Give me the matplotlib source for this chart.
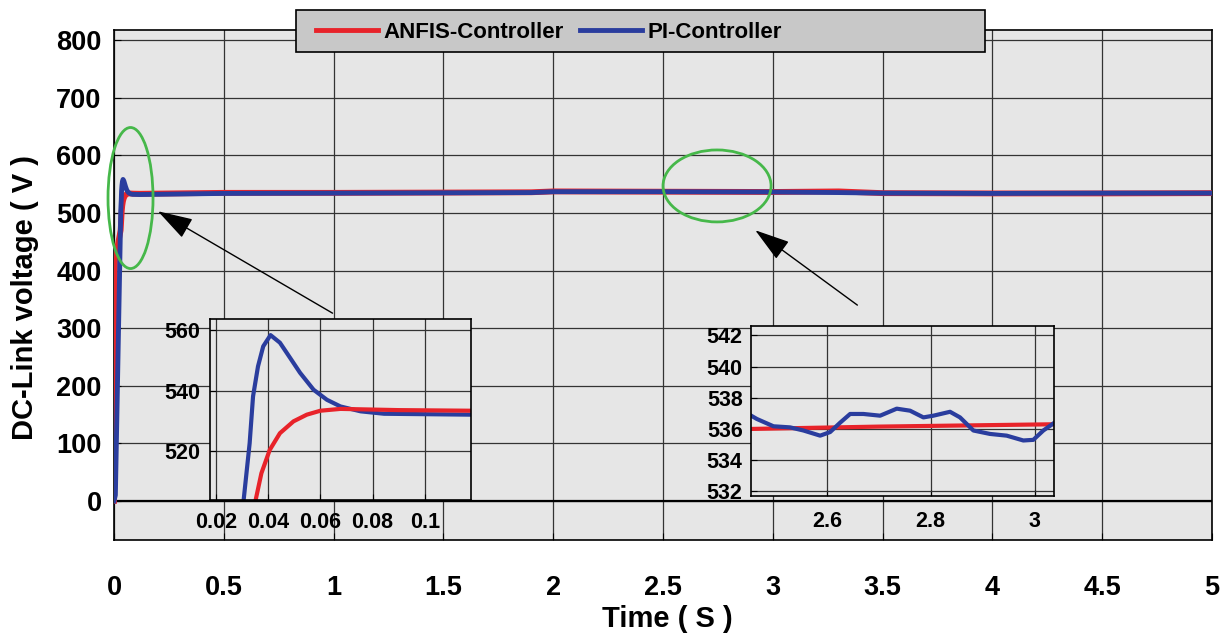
import numpy as np
import matplotlib
matplotlib.use('Agg')
import matplotlib.pyplot as plt
from matplotlib.patches import Ellipse, Rectangle

plt.rcParams['font.family'] = ['Liberation Sans', 'DejaVu Sans']
plt.rcParams['font.weight'] = 'bold'

# ---- data ----
# start-up transient (also shown in the first zoom box)
t_start_pi = [0.0, 0.006, 0.0306, 0.0329, 0.0342, 0.0361, 0.0381, 0.0409, 0.0445,
              0.0484, 0.0522, 0.0574, 0.0625, 0.0677, 0.0754, 0.0844, 0.1177]
v_start_pi = [0, 10, 504, 522.7, 538.1, 548.0, 554.6, 558.3, 555.8,
              550.8, 545.9, 540.3, 537.0, 534.8, 533.2, 532.4, 532.1]
t_start_anfis = [0.0, 0.004, 0.03, 0.0352, 0.0374, 0.0406, 0.0445, 0.0497,
                 0.0548, 0.06, 0.0677, 0.09, 0.1177]
v_start_anfis = [0, 418, 470, 504, 512.8, 520.5, 526.0, 529.9,
                 532.1, 533.4, 534.0, 533.6, 533.4]

# steady part of the run
t_steady = [0.5, 1.0, 1.5, 1.9, 2.0, 2.5, 3.0, 3.3, 3.5, 4.0, 4.5, 5.0]
v_steady_anfis = [535, 535, 535.5, 536, 537.5, 537, 536.5, 537.5, 534.5, 534, 534, 534.5]
v_steady_pi = [534, 534.5, 535, 535.5, 537, 537, 536.5, 535.5, 534.5, 534, 534.5, 534.5]

# second zoom box (2.45 .. 3.04 s)
t_zoom2 = [2.4545, 2.4654, 2.4974, 2.5295, 2.5551, 2.5872, 2.6064, 2.6256, 2.6449,
           2.6705, 2.7026, 2.7346, 2.7603, 2.7859, 2.8051, 2.8372, 2.8564, 2.8821,
           2.9141, 2.9462, 2.9782, 2.9974, 3.0167, 3.0372]
v_zoom2_pi = [536.85, 536.64, 536.17, 536.1, 535.9, 535.57, 535.8, 536.4, 536.96,
              536.96, 536.85, 537.3, 537.17, 536.74, 536.85, 537.1, 536.74, 535.9,
              535.68, 535.57, 535.26, 535.3, 535.9, 536.38]
t_zoom2_anfis = [2.4545, 2.7, 3.0372]
v_zoom2_anfis = [536.0, 536.15, 536.3]

main_xticks = [0, 0.5, 1, 1.5, 2, 2.5, 3, 3.5, 4, 4.5, 5]
main_xlabels = ['0', '0.5', '1', '1.5', '2', '2.5', '3', '3.5', '4', '4.5', '5']
main_yticks = [0, 100, 200, 300, 400, 500, 600, 700, 800]
zoom1_xticks = [0.02, 0.04, 0.06, 0.08, 0.1]
zoom1_xlabels = ['0.02', '0.04', '0.06', '0.08', '0.1']
zoom1_yticks = [520, 540, 560]
zoom2_xticks = [2.6, 2.8, 3.0]
zoom2_xlabels = ['2.6', '2.8', '3']
zoom2_yticks = [532, 534, 536, 538, 540, 542]

red = '#e8232a'
blue = '#2a3d9e'
bg = '#e6e6e6'
grid_c = '#333333'
green = '#46b84a'

t_anfis = t_start_anfis + t_steady
v_anfis = v_start_anfis + v_steady_anfis
t_pi = t_start_pi + t_steady
v_pi = v_start_pi + v_steady_pi

fig = plt.figure(figsize=(12.25, 6.4), dpi=100)
ax = fig.add_axes([0.0931, 0.15625, 0.8963, 0.797])
ax.set_facecolor(bg)
ax.plot(t_anfis, v_anfis, color=red, lw=4.2, label='ANFIS-Controller', zorder=3)
ax.plot(t_pi, v_pi, color=blue, lw=3.5, label='PI-Controller', zorder=4)
ax.set_xlim(0, 5)
ax.set_ylim(-68, 818)
ax.set_xticks(main_xticks)
ax.set_xticklabels(main_xlabels)
ax.set_yticks(main_yticks)
ax.grid(True, color=grid_c, lw=0.9)
ax.axhline(0, color='black', lw=1.6, zorder=2)
ax.tick_params(direction='in', length=5, labelsize=19.5, color='black')
ax.tick_params(axis='x', pad=25)
ax.tick_params(axis='y', pad=9)
for s in ax.spines.values():
    s.set_linewidth(1.2)
ax.set_xlabel('Time ( S )', fontsize=21, fontweight='bold')
ax.set_ylabel('DC-Link voltage ( V )', fontsize=21, fontweight='bold')
ax.xaxis.set_label_coords(0.504, -0.128)
ax.yaxis.set_label_coords(-0.068, 0.476)

# green marks and arrows
ax.add_patch(Ellipse((0.075, 526), 0.205, 245, fill=False, ec=green, lw=2, clip_on=False, zorder=6))
ax.add_patch(Ellipse((2.746, 547), 0.492, 125, fill=False, ec=green, lw=2, clip_on=False, zorder=6))
arrow_kw = dict(arrowstyle='-|>,head_length=0.55,head_width=0.17', color='black',
                lw=1, mutation_scale=40, shrinkA=0, shrinkB=0)
ax.annotate('', xy=(0.2, 503), xytext=(0.995, 326), arrowprops=arrow_kw, zorder=6)
ax.annotate('', xy=(2.92, 470), xytext=(3.385, 340), arrowprops=arrow_kw, zorder=6)

# first zoom box
ax1 = fig.add_axes([0.1714, 0.21875, 0.2131, 0.2828], zorder=5)
ax1.set_facecolor(bg)
ax1.plot(t_start_pi, v_start_pi, color=blue, lw=3)
ax1.plot(t_start_anfis, v_start_anfis, color=red, lw=3)
ax1.set_xlim(0.0177, 0.1177)
ax1.set_ylim(504, 563.6)
ax1.set_xticks(zoom1_xticks)
ax1.set_xticklabels(zoom1_xlabels)
ax1.set_yticks(zoom1_yticks)
ax1.grid(True, color=grid_c, lw=0.9)
ax1.tick_params(direction='in', length=4, labelsize=15.5)
ax1.tick_params(axis='x', pad=9)
ax1.tick_params(axis='y', pad=7)
for s in ax1.spines.values():
    s.set_linewidth(1.2)

# second zoom box
ax2 = fig.add_axes([0.613, 0.225, 0.2473, 0.2656], zorder=5)
ax2.set_facecolor(bg)
ax2.plot(t_zoom2_anfis, v_zoom2_anfis, color=red, lw=3)
ax2.plot(t_zoom2, v_zoom2_pi, color=blue, lw=3)
ax2.set_xlim(2.454, 3.037)
ax2.set_ylim(531.7, 542.6)
ax2.set_xticks(zoom2_xticks)
ax2.set_xticklabels(zoom2_xlabels)
ax2.set_yticks(zoom2_yticks)
ax2.grid(True, color=grid_c, lw=0.9)
ax2.tick_params(direction='in', length=4, labelsize=15.5)
ax2.tick_params(axis='x', pad=11)
ax2.tick_params(axis='y', pad=6)
for s in ax2.spines.values():
    s.set_linewidth(1.2)

# legend box
fig.patches.append(Rectangle((0.2416, 0.91875), 0.5625, 0.0656, transform=fig.transFigure,
                             fc='#c8c8c8', ec='black', lw=1.2, zorder=8))
leg = fig.legend(loc='center left', bbox_to_anchor=(0.258, 0.950), ncol=2, frameon=False,
                 fontsize=16, handlelength=2.8, handletextpad=0.25, columnspacing=0.7,
                 borderpad=0, borderaxespad=0)
leg.set_zorder(9)
for line in leg.get_lines():
    line.set_linewidth(3.5)

fig.savefig('out.png', dpi=100)
